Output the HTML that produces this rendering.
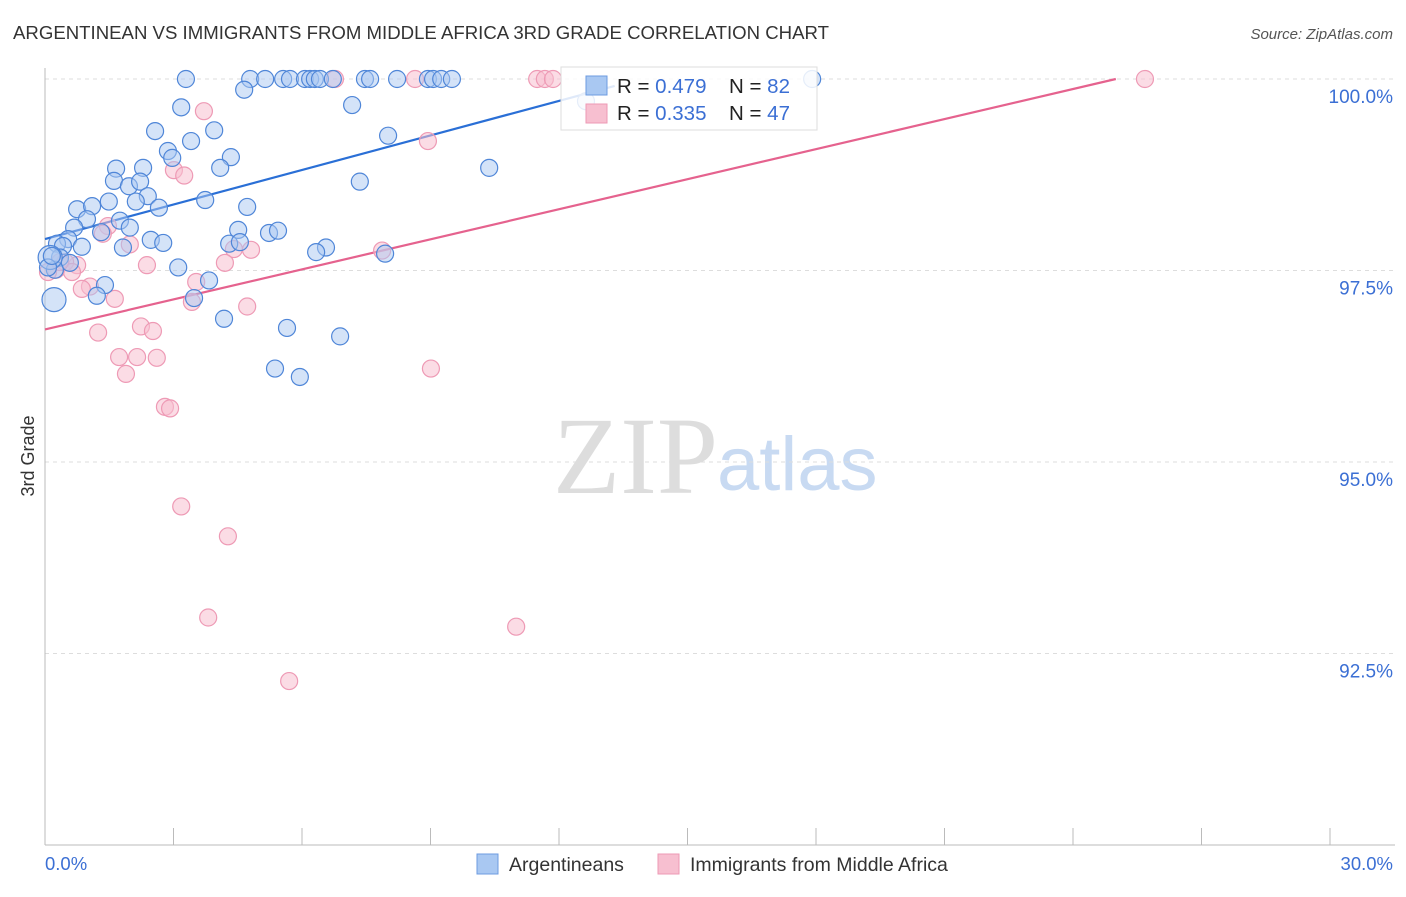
<!DOCTYPE html>
<html><head><meta charset="utf-8"><style>
body{margin:0;background:#fff;font-family:"Liberation Sans",sans-serif}
</style></head><body>
<svg id="chart" width="1406" height="892" xmlns="http://www.w3.org/2000/svg" font-family="Liberation Sans, sans-serif">
<text x="13" y="39" font-size="18.3" fill="#333" textLength="816" lengthAdjust="spacingAndGlyphs">ARGENTINEAN VS IMMIGRANTS FROM MIDDLE AFRICA 3RD GRADE CORRELATION CHART</text>
<text x="1393" y="39" font-size="15" fill="#555" font-style="italic" text-anchor="end">Source: ZipAtlas.com</text>
<text x="553" y="493" font-size="110" fill="#ddd" font-family="Liberation Serif, serif">ZIP</text>
<text x="717" y="490" font-size="76" fill="#c8daf2">atlas</text>
<text transform="translate(34,456) rotate(-90)" font-size="18" fill="#333" text-anchor="middle">3rd Grade</text>
<g id="grid"></g><g id="axes"></g><g id="trend"></g><g id="pts"></g>
<g>
<rect x="561" y="67" width="256" height="63" fill="#fff" fill-opacity="0.85" stroke="#ddd"/>
<rect x="586" y="76" width="21" height="19" fill="#a9c8f2" stroke="#6d9be0"/>
<rect x="586" y="104" width="21" height="19" fill="#f7bfd0" stroke="#ee9ab5"/>
<text x="617" y="93" font-size="20.5" fill="#222">R = <tspan fill="#3b6fd4">0.479</tspan></text>
<text x="729" y="93" font-size="20.5" fill="#222">N = <tspan fill="#3b6fd4">82</tspan></text>
<text x="617" y="120" font-size="20.5" fill="#222">R = <tspan fill="#3b6fd4">0.335</tspan></text>
<text x="729" y="120" font-size="20.5" fill="#222">N = <tspan fill="#3b6fd4">47</tspan></text>
</g>
<g><rect x="477" y="854" width="21" height="20" fill="#a9c8f2" stroke="#6d9be0"/><text x="509" y="871" font-size="19.5" fill="#333">Argentineans</text></g>
<g><rect x="658" y="854" width="21" height="20" fill="#f7bfd0" stroke="#ee9ab5"/><text x="690" y="871" font-size="19.5" fill="#333">Immigrants from Middle Africa</text></g>
</svg>
<script>
const blueX=[3.29,4.79,5.14,5.56,5.72,6.07,6.19,6.30,6.42,6.72,7.47,7.59,8.22,8.94,9.06,9.25,9.50,17.91,4.65,3.18,7.17,2.57,3.95,8.01,2.87,3.41,4.34,2.97,1.66,2.29,10.37,4.09,1.61,1.96,2.22,7.35,2.40,1.49,2.12,0.75,1.10,2.66,3.74,4.72,0.98,1.75,0.68,1.98,1.31,4.51,5.23,5.44,0.54,2.47,2.76,0.28,0.42,0.86,1.82,4.30,4.55,6.56,6.33,7.94,0.35,0.58,0.23,3.11,3.83,1.40,1.21,3.48,0.21,4.18,5.65,6.89,5.37,5.95,12.63,0.12,0.07,0.16];
const blueY=[100,100,100,100,100,100,100,100,100,100,100,100,100,100,100,100,100,100,99.86,99.63,99.66,99.32,99.33,99.26,99.06,99.19,98.98,98.97,98.83,98.84,98.84,98.84,98.67,98.60,98.66,98.66,98.47,98.40,98.40,98.30,98.34,98.32,98.42,98.33,98.17,98.15,98.06,98.06,98.00,98.03,97.99,98.02,97.91,97.90,97.86,97.85,97.82,97.81,97.80,97.85,97.87,97.80,97.74,97.72,97.67,97.60,97.51,97.54,97.37,97.31,97.17,97.14,97.12,96.87,96.75,96.64,96.22,96.11,99.71,97.67,97.54,97.69];
const pinkX=[6.77,8.64,11.49,11.67,11.86,25.68,3.71,8.94,3.01,3.25,1.47,1.35,1.98,4.81,4.41,7.87,4.20,2.38,0.75,0.26,0.47,0.63,1.05,0.86,1.63,3.53,3.43,4.72,2.24,2.52,1.24,1.73,2.15,2.61,1.89,9.01,2.80,2.92,3.18,4.27,3.81,11.00,5.70,0.07,0.35];
const pinkY=[100,100,100,100,100,100,99.58,99.19,98.81,98.74,98.08,97.98,97.84,97.77,97.78,97.76,97.60,97.57,97.57,97.51,97.61,97.48,97.29,97.26,97.13,97.35,97.09,97.03,96.77,96.71,96.69,96.37,96.37,96.36,96.15,96.22,95.72,95.70,94.42,94.03,92.97,92.85,92.14,97.48,97.61];
const bigBlue=[72,79];
const yTicks=[100,97.5,95,92.5];
const yTickLabels=["100.0%","97.5%","95.0%","92.5%"];
const xTicks=[0,3,6,9,12,15,18,21,24,27,30];
const blueTrend=[[0,97.91],[13.3,99.91]];
const pinkTrend=[[0,96.73],[25,100]];
const sx=v=>45+v*(1285/30), sy=v=>79+(100-v)*76.6;
const NS="http://www.w3.org/2000/svg";
function mk(p,t,a){const e=document.createElementNS(NS,t);for(const k in a)e.setAttribute(k,a[k]);document.getElementById(p).appendChild(e);return e;}
yTicks.forEach((t,i)=>{
 const l=mk('grid','line',{x1:45,x2:1395,y1:sy(t),y2:sy(t),stroke:'#ddd','stroke-dasharray':'4,4'});
 
 
 const tx=mk('grid','text',{x:1393,y:sy(t)+24,'font-size':19,fill:'#3b6fd4','text-anchor':'end'});
 tx.textContent=yTickLabels[i];
 
 
});
const ya=mk('axes','line',{x1:45,x2:45,y1:68,y2:845,stroke:'#bbb'});


const xa=mk('axes','line',{x1:45,x2:1395,y1:845,y2:845,stroke:'#bbb'});


xTicks.forEach(t=>{const l=mk('axes','line',{x1:sx(t),x2:sx(t),y1:828,y2:845,stroke:'#bbb'});
 
 });
const x0=mk('axes','text',{x:45,y:870,'font-size':18.5,fill:'#3b6fd4'});x0.textContent='0.0%';


const x1=mk('axes','text',{x:1393,y:870,'font-size':18.5,fill:'#3b6fd4','text-anchor':'end'});x1.textContent='30.0%';


pinkX.forEach((x,i)=>{const c=mk('pts','circle',{cx:sx(x),cy:sy(pinkY[i]),r:8.5,fill:'#f7bfd0','fill-opacity':0.55,stroke:'#ee9ab5','stroke-width':1.2});
 
 });
blueX.forEach((x,i)=>{const c=mk('pts','circle',{cx:sx(x),cy:sy(blueY[i]),r:bigBlue.includes(i)?12:8.5,fill:'#a9c8f2','fill-opacity':0.5,stroke:'#4f86d8','stroke-width':1.2});
 
 });
const bt=mk('trend','line',{x1:sx(blueTrend[0][0]),y1:sy(blueTrend[0][1]),x2:sx(blueTrend[1][0]),y2:sy(blueTrend[1][1]),stroke:'#2a6fd6','stroke-width':2.2});


const pt=mk('trend','line',{x1:sx(pinkTrend[0][0]),y1:sy(pinkTrend[0][1]),x2:sx(pinkTrend[1][0]),y2:sy(pinkTrend[1][1]),stroke:'#e5628e','stroke-width':2.2});


</script>
</body></html>
